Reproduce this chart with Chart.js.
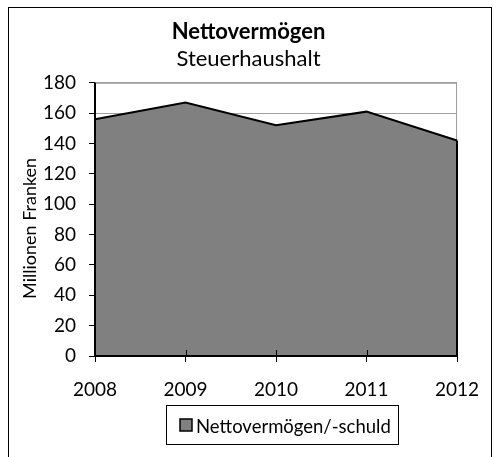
<!DOCTYPE html>
<html>
<head>
<meta charset="utf-8">
<script src="https://cdn.jsdelivr.net/npm/chart.js@4"></script>
<style>
body { margin: 0; background: #fff; }
#wrap { width: 497px; height: 457px; }
</style>
</head>
<body>
<div id="wrap"><canvas id="netChart"></canvas></div>
<script>
const years = ['2008', '2009', '2010', '2011', '2012'];
const netWorth = [156, 167, 152, 161, 142];
const yMin = 0;
const yMax = 180;
const yStep = 20;
const yTitle = 'Millionen Franken';

const FONT = 'Lato, "Open Sans", sans-serif';

// plot frame, black axes, right edge of the area, axis title and the legend box
const framePlugin = {
    id: 'framePlugin',
    afterLayout(chart) {
        // titles are centred on the whole canvas, not on the padded box
        const mid = chart.width / 2;
        chart.boxes.forEach(box => {
            if (box.position === 'top' && box.options && box.options.text !== undefined) {
                const dx = mid - (box.left + box.right) / 2;
                box.left += dx;
                box.right += dx;
            }
        });
    },
    beforeDatasetsDraw(chart) {
        const { ctx, chartArea: a } = chart;
        ctx.save();
        ctx.strokeStyle = '#a0a0a0';
        ctx.lineWidth = 1;
        ctx.strokeRect(a.left + 0.5, a.top + 0.5, a.right - a.left - 1, a.bottom - a.top);
        ctx.restore();
    },
    afterDatasetsDraw(chart) {
        const { ctx, chartArea: a, scales } = chart;
        const last = netWorth.length - 1;
        const xr = scales.x.getPixelForValue(last);
        const yTop = scales.y.getPixelForValue(netWorth[last]);
        const yBase = scales.y.getPixelForValue(0);
        ctx.save();
        ctx.strokeStyle = '#000';
        ctx.lineWidth = 2;
        ctx.beginPath();
        ctx.moveTo(xr, yTop);
        ctx.lineTo(xr, yBase);
        ctx.moveTo(a.left, a.top);
        ctx.lineTo(a.left, yBase);
        ctx.lineTo(a.right, yBase);
        ctx.stroke();
        ctx.lineWidth = 1;
        ctx.beginPath();
        for (let i = 1; i < years.length - 1; i++) {
            const x = Math.round(scales.x.getPixelForValue(i)) + 0.5;
            ctx.moveTo(x, yBase - 6);
            ctx.lineTo(x, yBase);
        }
        ctx.stroke();
        ctx.restore();
    },
    afterDraw(chart) {
        const { ctx, chartArea: a } = chart;
        const ds = chart.data.datasets[0];
        ctx.save();
        ctx.strokeStyle = '#000';
        ctx.lineWidth = 1;
        ctx.strokeRect(8.5, 7.5, 483, 470);

        // y axis title
        ctx.save();
        ctx.translate(30, (a.top + a.bottom) / 2 + 9);
        ctx.rotate(-Math.PI / 2);
        ctx.font = '18px ' + FONT;
        ctx.fillStyle = '#000';
        ctx.textAlign = 'center';
        ctx.textBaseline = 'middle';
        ctx.fillText(yTitle, 0, 0);
        ctx.restore();

        // legend
        ctx.font = '18.5px ' + FONT;
        const textW = ctx.measureText(ds.label).width;
        const boxW = 14 + 12 + 4 + textW + 7;
        const left = Math.round((a.left + a.right) / 2 + 6 - boxW / 2);
        const top = Math.round(a.bottom + 49);
        ctx.strokeRect(left + 0.5, top + 0.5, Math.round(boxW), 39);
        ctx.fillStyle = ds.backgroundColor;
        ctx.fillRect(left + 14, top + 14, 12, 12);
        ctx.lineWidth = 1.5;
        ctx.strokeRect(left + 14, top + 14, 12, 12);
        ctx.fillStyle = '#000';
        ctx.textBaseline = 'alphabetic';
        ctx.textAlign = 'left';
        ctx.fillText(ds.label, left + 30, top + 27.5);
        ctx.restore();
    }
};

new Chart(document.getElementById('netChart'), {
    type: 'line',
    data: {
        labels: years,
        datasets: [{
            label: 'Nettovermögen/-schuld',
            data: netWorth,
            fill: 'origin',
            backgroundColor: '#808080',
            borderColor: '#000',
            borderWidth: 2,
            pointRadius: 0,
            tension: 0
        }]
    },
    options: {
        responsive: true,
        maintainAspectRatio: false,
        animation: false,
        layout: { padding: { left: 10, right: 40, top: 8, bottom: 56 } },
        plugins: {
            title: {
                display: true,
                text: 'Nettovermögen',
                color: '#000',
                font: { family: FONT, size: 22, weight: 'bold' },
                padding: { top: 11, bottom: 0 }
            },
            subtitle: {
                display: true,
                text: 'Steuerhaushalt',
                color: '#000',
                font: { family: FONT, size: 22 },
                padding: { top: 0, bottom: 11 }
            },
            legend: { display: false },
            tooltip: { enabled: false }
        },
        scales: {
            x: {
                offset: false,
                grid: { drawOnChartArea: false, tickLength: 6, tickColor: '#000' },
                border: { display: false },
                ticks: { color: '#000', font: { family: FONT, size: 19 }, maxRotation: 0, padding: 16 },
                afterFit(scale) { scale.height = 45; }
            },
            y: {
                min: yMin,
                max: yMax,
                grid: { color: '#a0a0a0', tickLength: 6, tickColor: '#000' },
                border: { display: false },
                ticks: { stepSize: yStep, color: '#000', font: { family: FONT, size: 19 }, padding: 13 },
                afterFit(scale) { scale.width = 85; }
            }
        }
    },
    plugins: [framePlugin]
});
</script>
</body>
</html>
